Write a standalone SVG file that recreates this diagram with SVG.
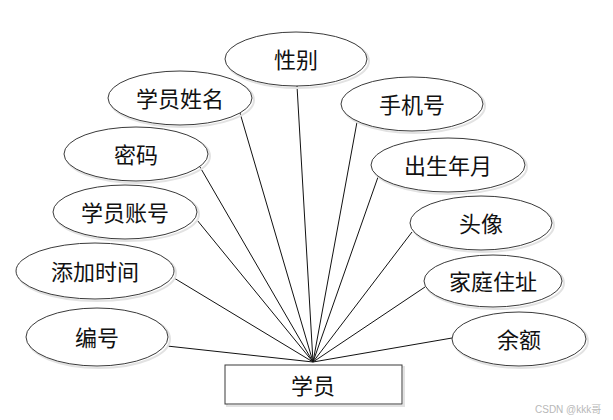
<svg xmlns="http://www.w3.org/2000/svg" width="613" height="420" viewBox="0 0 613 420">
<style>
.sh{fill:none;stroke:#e2e2e2;stroke-width:2}
.el{fill:#fff;stroke:#3a3a3a;stroke-width:1}
.t{font-family:"Noto Sans CJK SC","Noto Sans",sans-serif;font-size:22px;fill:#111;text-anchor:middle;dominant-baseline:central}
.ln{stroke:#111;stroke-width:1;fill:none}
.wm{font-family:"Liberation Sans","Noto Sans CJK SC",sans-serif;font-size:10px;fill:#b8b8b8}
</style>
<rect width="613" height="420" fill="#fff"/>
<g id="connectors">
<line class="ln" x1="297" y1="86" x2="313" y2="362"/>
<line class="ln" x1="240" y1="113" x2="313" y2="362"/>
<line class="ln" x1="200" y1="167" x2="313" y2="362"/>
<line class="ln" x1="197" y1="220" x2="313" y2="362"/>
<line class="ln" x1="174" y1="278" x2="313" y2="362"/>
<line class="ln" x1="167" y1="346" x2="313" y2="362"/>
<line class="ln" x1="357" y1="122" x2="313" y2="362"/>
<line class="ln" x1="378" y1="177" x2="313" y2="362"/>
<line class="ln" x1="412" y1="232" x2="313" y2="362"/>
<line class="ln" x1="425" y1="287" x2="313" y2="362"/>
<line class="ln" x1="452" y1="338" x2="313" y2="362"/>
</g>
<g id="n-xingbie"><ellipse class="sh" cx="298" cy="61" rx="71" ry="27"/><ellipse class="el" cx="296" cy="59" rx="71" ry="27"/><text class="t" x="296" y="58">性别</text></g>
<g id="n-xingming"><ellipse class="sh" cx="182" cy="100" rx="72" ry="27"/><ellipse class="el" cx="180" cy="98" rx="72" ry="27"/><text class="t" x="180" y="97">学员姓名</text></g>
<g id="n-mima"><ellipse class="sh" cx="138" cy="156" rx="72" ry="27"/><ellipse class="el" cx="136" cy="154" rx="72" ry="27"/><text class="t" x="136" y="153">密码</text></g>
<g id="n-zhanghao"><ellipse class="sh" cx="127" cy="214" rx="72" ry="27"/><ellipse class="el" cx="125" cy="212" rx="72" ry="27"/><text class="t" x="125" y="211">学员账号</text></g>
<g id="n-tianjia"><ellipse class="sh" cx="97" cy="273" rx="79" ry="28"/><ellipse class="el" cx="95" cy="271" rx="79" ry="28"/><text class="t" x="95" y="270">添加时间</text></g>
<g id="n-bianhao"><ellipse class="sh" cx="99" cy="339" rx="71" ry="29"/><ellipse class="el" cx="97" cy="337" rx="71" ry="29"/><text class="t" x="97" y="336">编号</text></g>
<g id="n-shouji"><ellipse class="sh" cx="414" cy="106" rx="71" ry="27"/><ellipse class="el" cx="412" cy="104" rx="71" ry="27"/><text class="t" x="412" y="103">手机号</text></g>
<g id="n-chusheng"><ellipse class="sh" cx="450" cy="167" rx="77" ry="27"/><ellipse class="el" cx="448" cy="165" rx="77" ry="27"/><text class="t" x="448" y="164">出生年月</text></g>
<g id="n-touxiang"><ellipse class="sh" cx="483" cy="225" rx="71" ry="27"/><ellipse class="el" cx="481" cy="223" rx="71" ry="27"/><text class="t" x="481" y="222">头像</text></g>
<g id="n-zhuzhi"><ellipse class="sh" cx="495" cy="283" rx="69" ry="26"/><ellipse class="el" cx="493" cy="281" rx="69" ry="26"/><text class="t" x="493" y="280">家庭住址</text></g>
<g id="n-yue"><ellipse class="sh" cx="521" cy="341" rx="67" ry="27"/><ellipse class="el" cx="519" cy="339" rx="67" ry="27"/><text class="t" x="519" y="338">余额</text></g>
<g id="n-xueyuan"><rect x="227" y="367" width="177" height="39" fill="none" stroke="#e2e2e2" stroke-width="2"/><rect x="225" y="365" width="177" height="39" fill="#fff" stroke="#3a3a3a" stroke-width="1"/><text class="t" x="313" y="384">学员</text></g>
<text class="wm" x="535" y="413">CSDN @kkk哥</text>
</svg>
